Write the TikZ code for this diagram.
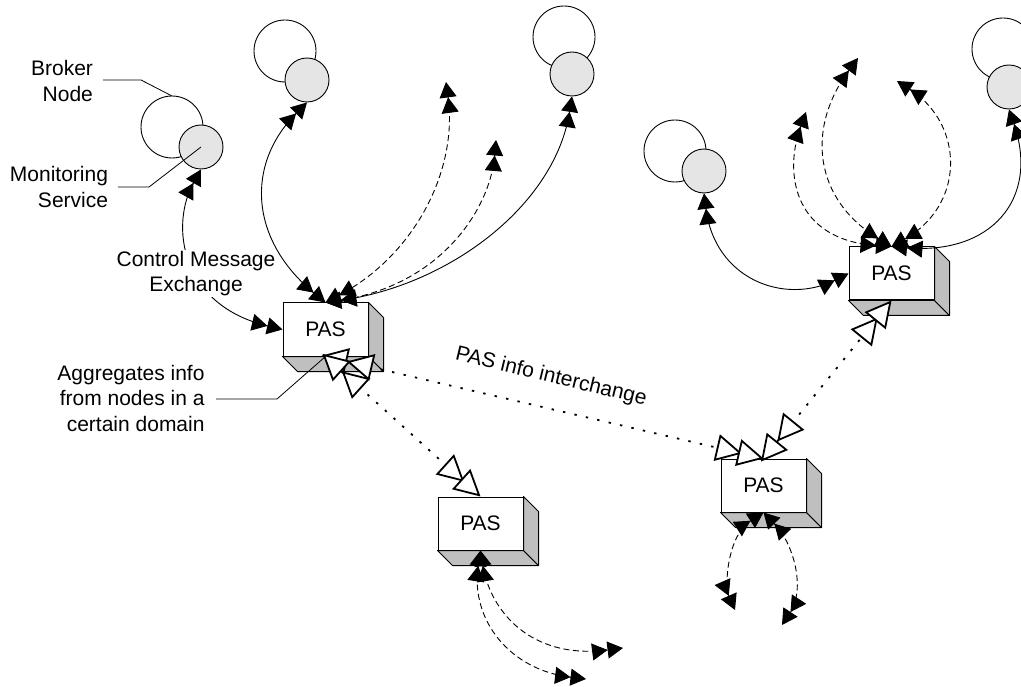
\documentclass[tikz,border=0pt]{standalone}
\usepackage{fontspec}
\setmainfont{Liberation Sans}
\usetikzlibrary{arrows.meta,calc}
\tikzset{
  x=1pt,y=-1pt,
  every node/.style={font=\fontsize{21}{25.5}\selectfont,text=black},
  bigc/.style={circle,draw,line width=0.9pt,minimum size=62pt,inner sep=0pt,fill=white},
  smallc/.style={circle,draw,line width=0.9pt,minimum size=44pt,inner sep=0pt,fill=black!10},
  pasbox/.style={rectangle,draw,line width=1pt,fill=white,minimum width=85pt,minimum height=53pt,inner sep=0pt},
  side/.style={draw,line width=1pt,fill=black!25,line join=round},
  lead/.style={draw,line width=0.8pt},
  lbl/.style={align=right,inner sep=0pt},
  solidlink/.style={line width=0.9pt,{Triangle[length=15.5pt,width=17pt]Triangle[length=15.5pt,width=17pt]}-{Triangle[length=15.5pt,width=17pt]Triangle[length=15.5pt,width=17pt]}},
  dashlink/.style={solidlink,dash pattern=on 6pt off 3.5pt},
  dotlink/.style={line width=1.8pt,dash pattern=on 2.4pt off 9.3pt,
    {Triangle[length=26pt,width=27pt,fill=white,line width=1.8pt,sep=-4pt]Triangle[length=26pt,width=27pt,fill=white,line width=1.8pt]}-{Triangle[length=26pt,width=27pt,fill=white,line width=1.8pt,sep=-4pt]Triangle[length=26pt,width=27pt,fill=white,line width=1.8pt]}},
}
\begin{document}
\begin{tikzpicture}
\useasboundingbox (0,0) rectangle (1021,687);
% broker pairs
\node[bigc] (b1) at (172,127) {};
\node[smallc] (s1) at (201,147) {};
\node[bigc] (b2) at (285,51) {};
\node[smallc] (s2) at (307,80) {};
\node[bigc] (b3) at (564,37) {};
\node[smallc] (s3) at (572,74) {};
\node[bigc] (b4) at (675,151) {};
\node[smallc] (s4) at (704,171) {};
\node[bigc] (b5) at (1003,49) {};
\node[smallc] (s5) at (1009,87) {};
% PAS boxes
\node[pasbox] (p1) at (325.5,329.5) {PAS};
\node[pasbox] (p2) at (891.5,273.5) {PAS};
\node[pasbox] (p3) at (763.5,485.5) {PAS};
\node[pasbox] (p4) at (480.5,523.5) {PAS};
\foreach \p in {p1,p2,p3,p4}{
  \path[side] (\p.south west) -- ($(\p.south west)+(15,15)$) -- ($(\p.south east)+(15,15)$) -- (\p.south east) -- cycle;
  \path[side] (\p.north east) -- ($(\p.north east)+(15,15)$) -- ($(\p.south east)+(15,15)$) -- (\p.south east) -- cycle;
}
% free ends
\coordinate (d1) at (446,82);
\coordinate (d2) at (496,140);
\coordinate (d3) at (806,112);
\coordinate (d4) at (858,58);
\coordinate (d5) at (897,81);
\coordinate (d6) at (735,610);
\coordinate (d7) at (782,625);
\coordinate (d8) at (586,679);
\coordinate (d9) at (623,648);
\coordinate (lb0) at (103,80);
\coordinate (lb1) at (141,80);
\coordinate (lb2) at (172,96);
\coordinate (lm0) at (118,187);
\coordinate (lm1) at (149,187);
\coordinate (la0) at (216,399);
\coordinate (la1) at (277,399);
% control message link sits under its label
\draw[solidlink] (s1.south) .. controls (170,225) and (180,305) .. (p1.west);
\node[align=center,inner sep=1pt,fill=white] (cm) at (196,273.5) {Control Message\\Exchange};
% other links
\draw[solidlink] (s2.south) .. controls (245,165) and (250,240) .. (p1.north);
\draw[solidlink] (s3.south) .. controls (555,205) and (450,285) .. (p1.north);
\draw[dashlink] (d1) .. controls (458,170) and (415,255) .. (p1.north);
\draw[dashlink] (d2) .. controls (490,210) and (440,285) .. (p1.north);
\draw[solidlink] (s4.south) .. controls (715,280) and (785,305) .. (p2.west);
\draw[solidlink] (s5.south) .. controls (1040,200) and (990,255) .. (p2.north);
\draw[dashlink] (d3) .. controls (783,175) and (795,240) .. (p2.north);
\draw[dashlink] (d4) .. controls (805,130) and (815,200) .. (p2.north);
\draw[dashlink] (d5) .. controls (965,125) and (965,205) .. (p2.north);
\draw[dashlink] (p3.south) .. controls (728,535) and (724,585) .. (d6);
\draw[dashlink] (p3.south) .. controls (795,545) and (805,590) .. (d7);
\draw[dashlink] (p4.south) .. controls (470,620) and (510,670) .. (d8);
\draw[dashlink] (p4.south) .. controls (490,610) and (530,660) .. (d9);
% leader lines
\draw[lead] (lb0) -- (lb1) -- (lb2);
\draw[lead] (lm0) -- (lm1) -- (s1.center);
\draw[lead] (la0) -- (la1) -- (p1.south);
% PAS interchange
\draw[dotlink] (p1.south) -- (p3.north);
\draw[dotlink] (p1.south) -- (p4.north);
\draw[dotlink] (p3.north) -- (p2.south);
% labels
\node[lbl] (tb) at (62,81) {Broker\\Node};
\node[lbl] (tm) at (59,187) {Monitoring\\Service};
\node[lbl] (ta) at (131,398) {Aggregates info\\from nodes in a\\certain domain};
\node[inner sep=0pt,rotate=-13.5] (ti) at (551,377) {PAS info interchange};
\end{tikzpicture}
\end{document}
